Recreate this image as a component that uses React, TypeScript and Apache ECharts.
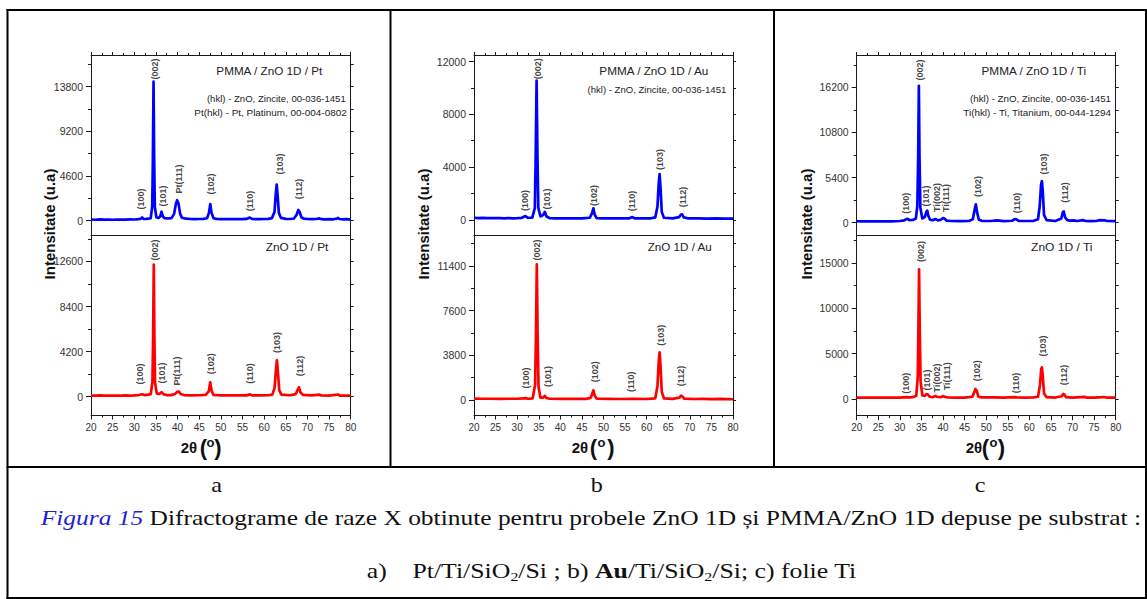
import React, { useEffect, useRef } from "react";
import * as echarts from "echarts";

// ---------------- DATA ----------------
// 2θ range of every diffractogram
const twoThetaMin = 20;
const twoThetaMax = 80;
const twoThetaStep = 5;

// a) Pt substrate
const aPmmaPattern: number[][] = [
  [20, 120], [21, 90], [22, 130], [23, 100], [24, 110], [25, 90], [26, 120], [27, 100], [28, 110], [29, 130],
  [30, 120], [31, 150], [31.5, 200], [31.8, 320], [32.1, 190], [32.6, 170], [33.2, 200], [33.8, 260],
  [34.15, 1500], [34.3, 6500], [34.45, 14300], [34.6, 6200], [34.75, 1400], [35.1, 350], [35.6, 280],
  [36.0, 450], [36.3, 920], [36.6, 420], [37.0, 250], [37.8, 220], [38.6, 260], [39.2, 700], [39.6, 1700],
  [39.9, 2100], [40.2, 1800], [40.6, 700], [41, 300], [42, 200], [43, 170], [44, 160], [45, 170], [46, 180],
  [46.8, 250], [47.25, 800], [47.55, 1700], [47.85, 800], [48.3, 250], [49, 180], [50, 160], [51, 150],
  [52, 170], [53, 150], [54, 160], [55, 150], [56, 180], [56.7, 320], [57.2, 180], [58, 150], [59, 160],
  [60, 170], [61, 180], [61.8, 260], [62.4, 900], [62.7, 2800], [62.9, 3700], [63.1, 2700], [63.4, 800],
  [63.9, 280], [65, 180], [66, 170], [66.9, 220], [67.5, 600], [67.9, 1100], [68.2, 900], [68.6, 350],
  [69.2, 200], [70, 170], [71, 150], [72, 170], [72.8, 230], [73.3, 150], [74, 140], [75, 150], [76, 140],
  [76.8, 200], [77.1, 280], [77.4, 170], [78, 140], [79, 150], [80, 130],
];
const aZnoPattern: number[][] = [
  [20, 110], [21, 100], [22, 120], [23, 100], [24, 110], [25, 100], [26, 110], [27, 100], [28, 120], [29, 110],
  [30, 130], [31, 160], [31.8, 230], [32.5, 150], [33.2, 200], [33.8, 250], [34.2, 1400], [34.35, 5500],
  [34.5, 12300], [34.65, 5400], [34.8, 1300], [35.2, 300], [35.8, 260], [36.3, 420], [36.8, 220],
  [37.5, 160], [38.5, 150], [39.4, 250], [39.9, 450], [40.3, 480], [40.7, 250], [41.5, 160], [43, 130],
  [45, 140], [46.5, 180], [47.2, 500], [47.55, 1350], [47.85, 550], [48.3, 180], [50, 130], [52, 120],
  [54, 130], [56, 130], [56.7, 220], [57.2, 130], [59, 120], [61, 140], [61.9, 200], [62.4, 800],
  [62.75, 2600], [62.95, 3400], [63.15, 2500], [63.5, 600], [64, 200], [66, 140], [67.3, 250], [67.8, 700],
  [68.05, 880], [68.4, 400], [69, 170], [71, 130], [72.8, 200], [73.2, 120], [75, 110], [77.1, 210],
  [77.5, 110], [80, 100],
];

// b) Au substrate
const bPmmaPattern: number[][] = [
  [20, 150], [21, 130], [22, 140], [23, 120], [24, 130], [25, 120], [26, 130], [27, 110], [28, 120], [29, 110],
  [30, 120], [31, 140], [31.9, 280], [32.5, 150], [33.5, 160], [34.1, 900], [34.3, 5000], [34.5, 10550],
  [34.7, 4800], [34.9, 900], [35.4, 250], [36.0, 350], [36.4, 600], [36.8, 250], [37.5, 130], [39, 110],
  [41, 100], [43, 110], [45, 100], [46.8, 150], [47.35, 500], [47.65, 870], [47.95, 400], [48.4, 130],
  [50, 110], [52, 100], [54, 110], [56, 110], [56.7, 200], [57.2, 110], [59, 100], [61, 110], [62, 180],
  [62.5, 1000], [62.8, 2800], [63.0, 3470], [63.2, 2500], [63.5, 600], [64, 150], [66, 110], [67.5, 200],
  [67.9, 380], [68.2, 410], [68.6, 180], [69.5, 110], [72, 100], [74, 90], [76, 100], [78, 90], [80, 80],
];
const bZnoPattern: number[][] = [
  [20, 120], [22, 110], [24, 110], [26, 100], [28, 110], [30, 110], [31.5, 150], [32, 160], [32.5, 110],
  [33.6, 150], [34.15, 1300], [34.35, 5300], [34.55, 11530], [34.75, 5200], [34.95, 1100], [35.4, 200],
  [36.0, 200], [36.4, 360], [36.8, 170], [37.5, 110], [40, 100], [43, 100], [46, 100], [47.0, 180],
  [47.35, 500], [47.65, 830], [47.95, 400], [48.4, 120], [51, 100], [54, 90], [57, 100], [60, 90], [62, 150],
  [62.5, 1200], [62.8, 3300], [63.0, 4050], [63.2, 3000], [63.5, 700], [64, 150], [66, 100], [67.6, 200],
  [68.0, 380], [68.3, 300], [68.7, 120], [71, 90], [73, 100], [75, 80], [77, 100], [80, 70],
];

// c) Ti foil
const cPmmaPattern: number[][] = [
  [20, 170], [21, 150], [22, 170], [23, 150], [24, 160], [25, 150], [26, 170], [27, 150], [28, 160], [29, 170],
  [30, 200], [31, 280], [31.5, 420], [31.8, 460], [32.2, 300], [33, 320], [33.7, 500], [34.05, 2000],
  [34.25, 8000], [34.4, 16400], [34.55, 7800], [34.75, 1800], [35.2, 500], [35.8, 700], [36.15, 1300],
  [36.35, 1440], [36.6, 800], [37, 350], [37.6, 300], [38.1, 420], [38.4, 400], [38.8, 280], [39.5, 350],
  [40.0, 560], [40.3, 500], [40.8, 250], [42, 200], [44, 180], [46, 200], [46.9, 400], [47.3, 1500],
  [47.6, 2200], [47.9, 1200], [48.3, 350], [49, 220], [51, 200], [52.5, 280], [53, 250], [54, 190],
  [56, 230], [56.6, 420], [57, 400], [57.5, 220], [59, 200], [61, 220], [62, 400], [62.4, 2000], [62.7, 4500],
  [62.9, 4990], [63.1, 3800], [63.4, 900], [64, 300], [66, 200], [67.4, 500], [67.75, 1250], [67.95, 1360],
  [68.3, 600], [68.8, 300], [69.5, 250], [70.3, 280], [71, 200], [72.5, 300], [73, 200], [74, 180],
  [75.5, 200], [76.4, 300], [77, 280], [77.4, 300], [78, 200], [80, 180],
];
const cZnoPattern: number[][] = [
  [20, 150], [22, 140], [24, 150], [26, 140], [28, 150], [30, 150], [31.5, 200], [32, 180], [33, 200],
  [33.8, 350], [34.15, 2500], [34.3, 8000], [34.45, 14280], [34.6, 7800], [34.8, 2000], [35.2, 400],
  [35.8, 350], [36.2, 550], [36.5, 500], [36.9, 250], [37.6, 200], [38.2, 320], [38.6, 250], [39.5, 200],
  [40.0, 320], [40.4, 250], [41, 180], [43, 160], [45, 160], [46.8, 250], [47.2, 700], [47.5, 1100],
  [47.8, 900], [48.2, 250], [49, 170], [52, 170], [54, 160], [56.5, 200], [57, 180], [59, 150], [61, 170],
  [62, 250], [62.45, 1500], [62.75, 3300], [62.9, 3490], [63.1, 2600], [63.4, 600], [64, 200], [66, 160],
  [67.5, 300], [67.85, 550], [68.1, 500], [68.5, 200], [70, 150], [71, 180], [72.8, 240], [73.2, 160],
  [75, 150], [76.8, 200], [77.2, 220], [78, 150], [80, 140],
];

// peak annotations: [2θ, intensity, label]
const aPmmaPeaks: [number, number, string][] = [
  [31.65, 2233, "(100)"], [34.9, 15610, "(002)"], [36.75, 2540, "(101)"], [40.4, 4290, "Pt(111)"],
  [47.8, 3776, "(102)"], [56.83, 2027, "(110)"], [63.6, 5834, "(103)"], [68.1, 3262, "(112)"],
];
const aZnoPeaks: [number, number, string][] = [
  [31.42, 2113, "(100)"], [34.83, 13658, "(002)"], [36.38, 2206, "(101)"], [39.85, 2393, "Pt(111)"],
  [47.8, 3072, "(102)"], [56.83, 2160, "(110)"], [63.02, 5046, "(103)"], [68.26, 2858, "(112)"],
];
const bPmmaPeaks: [number, number, string][] = [
  [31.88, 1457, "(100)"], [34.83, 11453, "(002)"], [36.84, 1571, "(101)"], [47.8, 1837, "(102)"],
  [56.67, 1419, "(110)"], [63.02, 4569, "(103)"], [68.42, 1723, "(112)"],
];
const bZnoPeaks: [number, number, string][] = [
  [31.98, 1870, "(100)"], [34.66, 12750, "(002)"], [37.14, 1998, "(101)"], [48.1, 2406, "(102)"],
  [56.3, 1556, "(110)"], [63.25, 5500, "(103)"], [68.02, 2040, "(112)"],
];
const cPmmaPeaks: [number, number, string][] = [
  [31.35, 2322, "(100)"], [34.73, 18278, "(002)"], [35.98, 3196, "(101)"], [38.53, 3016, "Ti(002)"],
  [40.62, 2957, "Ti(111)"], [48.17, 4333, "(102)"], [57.07, 2358, "(110)"], [63.46, 7026, "(103)"],
  [68.26, 3615, "(112)"],
];
const cZnoPeaks: [number, number, string][] = [
  [31.42, 1729, "(100)"], [34.9, 16240, "(002)"], [36.22, 2092, "(101)"], [38.53, 2312, "Ti(002)"],
  [40.99, 2499, "Ti(111)"], [47.8, 3105, "(102)"], [56.83, 1762, "(110)"], [63.09, 5835, "(103)"],
  [68.09, 2642, "(112)"],
];

// intensity axes: [min, max], major ticks, minor ticks
const aPmmaRange = [-1550, 17050];
const aPmmaMajor = [0, 4600, 9200, 13800];
const aPmmaMinor = [2300, 6900, 11500, 16100];
const aZnoRange = [-1700, 15000];
const aZnoMajor = [0, 4200, 8400, 12600];
const aZnoMinor = [2100, 6300, 10500, 14700];
const bPmmaRange = [-1210, 12500];
const bPmmaMajor = [0, 4000, 8000, 12000];
const bPmmaMinor = [2000, 6000, 10000];
const bZnoRange = [-1270, 13970];
const bZnoMajor = [0, 3800, 7600, 11400];
const bZnoMinor = [1900, 5700, 9500, 13300];
const cPmmaRange = [-1560, 20080];
const cPmmaMajor = [0, 5400, 10800, 16200];
const cPmmaMinor = [2700, 8100, 13500, 18900];
const cZnoRange = [-1840, 17980];
const cZnoMajor = [0, 5000, 10000, 15000];
const cZnoMinor = [2500, 7500, 12500, 17500];

// texts
const pmmaTitles = ["PMMA / ZnO 1D / Pt", "PMMA / ZnO 1D / Au", "PMMA / ZnO 1D / Ti"];
const znoTitles = ["ZnO 1D / Pt", "ZnO 1D / Au", "ZnO 1D / Ti"];
const referenceCards = [
  ["(hkl) - ZnO, Zincite, 00-036-1451", "Pt(hkl) - Pt, Platinum, 00-004-0802"],
  ["(hkl) - ZnO, Zincite, 00-036-1451"],
  ["(hkl) - ZnO, Zincite, 00-036-1451", "Ti(hkl) - Ti, Titanium, 00-044-1294"],
];
const yAxisTitle = "Intensitate (u.a)";
const panelLetters = ["a", "b", "c"];
const captionLabel = "Figura 15";
const captionText = " Difractograme de raze X obtinute pentru probele ZnO 1D și PMMA/ZnO 1D depuse pe substrat :";

// ---------------- LAYOUT / STYLE ----------------
const SANS = "Liberation Sans";
const SERIF = "Liberation Serif";
const BLUE = "#0000ff";
const RED = "#ff0000";
const FRAME = "#1a1a1a";
const LABEL = "#333";

const PLOT_TOP = 55;
const PLOT_MID = 235.7;
const PLOT_BOTTOM_AB = 415;
const PLOT_BOTTOM_C = 415.7;

const LAYOUT = [
  {
    left: 91, width: 259.7, bottom: PLOT_BOTTOM_AB, yTitleX: 49,
    title: { cx: 269.3, w: 106.7 }, sub: { cx: 297, w: 62.7 },
    refs: [{ rx: 345.7, y: 99.3, w: 139 }, { rx: 346.7, y: 113.3, w: 152.7 }],
    xTitle: [189, 203.5, 210.5, 218], letterX: 216.7,
  },
  {
    left: 474, width: 259, bottom: PLOT_BOTTOM_AB, yTitleX: 423,
    title: { cx: 653.8, w: 110.3 }, sub: { cx: 679.7, w: 64.7 },
    refs: [{ rx: 726.3, y: 90, w: 139 }],
    xTitle: [580, 593.5, 601.5, 611], letterX: 596.7,
  },
  {
    left: 856.7, width: 259, bottom: PLOT_BOTTOM_C, yTitleX: 806,
    title: { cx: 1033.8, w: 105.7 }, sub: { cx: 1061.8, w: 61.7 },
    refs: [{ rx: 1111, y: 99.3, w: 141 }, { rx: 1111, y: 113.3, w: 148.3 }],
    xTitle: [974, 985.5, 993.5, 1001.5], letterX: 980,
  },
];

function measure(text: string, font: string): number {
  const ctx = document.createElement("canvas").getContext("2d");
  if (!ctx) return text.length * 6;
  ctx.font = font;
  return ctx.measureText(text).width || 1;
}

function fittedText(
  x: number, y: number, text: string, size: number, weight: string,
  targetW: number, align: string, fill = "#222"
) {
  const w = measure(text, `${weight} ${size}px "Liberation Sans"`);
  return {
    type: "text", x, y, scaleX: targetW / w, silent: true, z: 10,
    style: {
      text, fontSize: size, fontWeight: weight, fontFamily: SANS, fill,
      align, textAlign: align, verticalAlign: "middle", textVerticalAlign: "middle",
    },
  };
}

function plainText(x: number, y: number, text: string, size: number, weight: string, extra: any = {}) {
  return {
    type: "text", x, y, silent: true, z: 10, ...extra,
    style: {
      text, fontSize: size, fontWeight: weight, fontFamily: SANS, fill: "#111",
      align: "center", textAlign: "center", verticalAlign: "middle", textVerticalAlign: "middle",
    },
  };
}

function hline(x1: number, x2: number, y: number, w = 2) {
  return { type: "line", silent: true, z: 20, shape: { x1, y1: y, x2, y2: y }, style: { stroke: "#000", lineWidth: w } };
}
function vline(x: number, y1: number, y2: number, w = 2) {
  return { type: "line", silent: true, z: 20, shape: { x1: x, y1, x2: x, y2 }, style: { stroke: "#000", lineWidth: w } };
}

const plainNumber = (v: number) => String(Math.round(v));

export default function App() {
  const ref = useRef<HTMLDivElement>(null);

  useEffect(() => {
    if (!ref.current) return;
    const chart = echarts.init(ref.current, undefined, { renderer: "svg" });

    const patterns = [aPmmaPattern, aZnoPattern, bPmmaPattern, bZnoPattern, cPmmaPattern, cZnoPattern];
    const peaks = [aPmmaPeaks, aZnoPeaks, bPmmaPeaks, bZnoPeaks, cPmmaPeaks, cZnoPeaks];
    const ranges = [aPmmaRange, aZnoRange, bPmmaRange, bZnoRange, cPmmaRange, cZnoRange];
    const majors = [aPmmaMajor, aZnoMajor, bPmmaMajor, bZnoMajor, cPmmaMajor, cZnoMajor];
    const minors = [aPmmaMinor, aZnoMinor, bPmmaMinor, bZnoMinor, cPmmaMinor, cZnoMinor];

    const grids: any[] = [];
    const xAxes: any[] = [];
    const yAxes: any[] = [];
    const series: any[] = [];
    const lineStyle = { color: FRAME, width: 1 };

    for (let g = 0; g < 6; g++) {
      const p = LAYOUT[Math.floor(g / 2)];
      const isTop = g % 2 === 0;
      const top = isTop ? PLOT_TOP : PLOT_MID;
      const height = isTop ? PLOT_MID - PLOT_TOP : p.bottom - PLOT_MID;
      grids.push({ left: p.left, top, width: p.width, height, containLabel: false });

      // bottom x axis
      xAxes.push({
        type: "value", gridIndex: g, position: "bottom",
        min: twoThetaMin, max: twoThetaMax, interval: twoThetaStep,
        axisLine: { show: true, onZero: false, lineStyle },
        axisTick: { show: !isTop, length: 4.5, inside: false, lineStyle },
        minorTick: { show: !isTop, splitNumber: 2, length: 2.5, lineStyle },
        axisLabel: { show: !isTop, fontSize: 10, color: LABEL, fontFamily: SANS, margin: 7, formatter: plainNumber },
        splitLine: { show: false },
      });
      // top x axis (ticks only)
      xAxes.push({
        type: "value", gridIndex: g, position: "top", show: isTop,
        min: twoThetaMin, max: twoThetaMax, interval: twoThetaStep,
        axisLine: { show: true, onZero: false, lineStyle },
        axisTick: { show: true, length: 3, inside: false, lineStyle },
        minorTick: { show: true, splitNumber: 2, length: 2, lineStyle },
        axisLabel: { show: false },
        splitLine: { show: false },
      });

      const [ymin, ymax] = ranges[g];
      // left main
      yAxes.push({
        type: "value", gridIndex: g, position: "left", min: ymin, max: ymax,
        axisLine: { show: true, onZero: false, lineStyle },
        axisTick: { show: true, length: 5, inside: false, lineStyle, customValues: majors[g] },
        axisLabel: {
          show: true, fontSize: 10.5, color: LABEL, fontFamily: SANS, margin: 8,
          customValues: majors[g], formatter: plainNumber,
        },
        splitLine: { show: false },
      });
      // left minor
      yAxes.push({
        type: "value", gridIndex: g, position: "left", min: ymin, max: ymax,
        axisLine: { show: false },
        axisTick: { show: true, length: 3, inside: false, lineStyle, customValues: minors[g] },
        axisLabel: { show: false },
        splitLine: { show: false },
      });
      // right ticks
      yAxes.push({
        type: "value", gridIndex: g, position: "right", min: ymin, max: ymax,
        axisLine: { show: true, onZero: false, lineStyle },
        axisTick: { show: true, length: 3, inside: false, lineStyle, customValues: [...majors[g], ...minors[g]] },
        axisLabel: { show: false },
        splitLine: { show: false },
      });

      series.push({
        type: "line", xAxisIndex: 2 * g, yAxisIndex: 3 * g,
        data: patterns[g], showSymbol: false, symbol: "none", clip: true, z: 3,
        lineStyle: { color: isTop ? BLUE : RED, width: 2.7, join: "round" },
        silent: true,
      });
      series.push({
        type: "scatter", xAxisIndex: 2 * g, yAxisIndex: 3 * g,
        data: peaks[g].map(([x, y, t]) => ({ value: [x, y], name: t })),
        symbolSize: 1, itemStyle: { color: "rgba(0,0,0,0)" }, silent: true, z: 6,
        label: {
          show: true, position: "inside", rotate: 90, formatter: "{b}",
          fontSize: 9, fontWeight: "bold", fontFamily: SANS, color: "#111",
          align: "center", verticalAlign: "middle",
        },
      });
    }

    const graphics: any[] = [];
    // table borders
    graphics.push(hline(6.5, 1147, 10));
    graphics.push(hline(6.5, 1147, 467));
    graphics.push(hline(6.5, 1147, 598));
    graphics.push(vline(7.5, 9, 599));
    graphics.push(vline(1146, 9, 599));
    graphics.push(vline(390.5, 10, 467));
    graphics.push(vline(774, 10, 467));

    LAYOUT.forEach((p, i) => {
      graphics.push(fittedText(p.title.cx, 70.8, pmmaTitles[i], 11.5, "normal", p.title.w, "center"));
      graphics.push(fittedText(p.sub.cx, 246.7, znoTitles[i], 11.5, "normal", p.sub.w, "center"));
      referenceCards[i].forEach((t, k) => {
        const r = p.refs[k];
        graphics.push(fittedText(r.rx, r.y, t, 8.5, "normal", r.w, "right"));
      });
      // y title
      graphics.push(plainText(p.yTitleX, 224, yAxisTitle, 15, "bold", { rotation: Math.PI / 2 }));
      // x title: 2θ (°)
      graphics.push(plainText(p.xTitle[0], 447.5, "2θ", 15, "bold"));
      graphics.push(plainText(p.xTitle[1], 447, "(", 22, "bold"));
      graphics.push(plainText(p.xTitle[2], 442, "o", 13, "bold"));
      graphics.push(plainText(p.xTitle[3], 447, ")", 22, "bold"));
      // panel letters
      graphics.push({
        type: "text", x: p.letterX, y: 485.4, silent: true, scaleX: 1.15,
        style: {
          text: panelLetters[i], fontSize: 21, fontFamily: SERIF, fill: "#111",
          align: "center", textAlign: "center", verticalAlign: "middle", textVerticalAlign: "middle",
        },
      });
    });

    // caption line 1
    const capW =
      measure(captionLabel, `italic 21px "Liberation Serif"`) + measure(captionText, `21px "Liberation Serif"`);
    graphics.push({
      type: "text", x: 40.7, y: 517.7, scaleX: (1141.7 - 40.7) / capW, silent: true,
      style: {
        text: `{i|${captionLabel}}${captionText}`,
        fontSize: 21, fontFamily: SERIF, fill: "#111",
        align: "left", textAlign: "left", verticalAlign: "middle", textVerticalAlign: "middle",
        rich: { i: { fontStyle: "italic", fontSize: 21, fontFamily: SERIF, fill: "#1f1fd8", color: "#1f1fd8" } },
      },
    });

    // caption line 2
    const segs: [string, string][] = [
      ["a)    Pt/Ti/SiO", "21px"], ["2", "13px"], ["/Si ; b) ", "21px"], ["Au", "bold 21px"],
      ["/Ti/SiO", "21px"], ["2", "13px"], ["/Si; c) folie Ti", "21px"],
    ];
    const line2W = segs.reduce((s, [t, f]) => s + measure(t, `${f} "Liberation Serif"`), 0);
    graphics.push({
      type: "text", x: 366.7, y: 571, scaleX: (856.7 - 366.7) / line2W, silent: true,
      style: {
        text: "{n|a)    Pt/Ti/SiO}{s|2}{n|/Si ; b) }{b|Au}{n|/Ti/SiO}{s|2}{n|/Si; c) folie Ti}",
        fontSize: 21, fontFamily: SERIF, fill: "#111",
        align: "left", textAlign: "left", verticalAlign: "middle", textVerticalAlign: "middle",
        rich: {
          n: { fontSize: 21, fontFamily: SERIF, lineHeight: 24 },
          s: { fontSize: 13, fontFamily: SERIF, lineHeight: 24, verticalAlign: "bottom" },
          b: { fontSize: 21, fontFamily: SERIF, fontWeight: "bold", lineHeight: 24 },
        },
      },
    });

    chart.setOption({
      animation: false,
      backgroundColor: "#ffffff",
      textStyle: { fontFamily: SANS },
      grid: grids,
      xAxis: xAxes,
      yAxis: yAxes,
      series,
      graphic: { elements: graphics },
    });

    return () => chart.dispose();
  }, []);

  return (
    <div
      ref={ref}
      style={{ position: "absolute", left: 0, top: 0, width: 1147, height: 599, background: "#fff" }}
    />
  );
}
